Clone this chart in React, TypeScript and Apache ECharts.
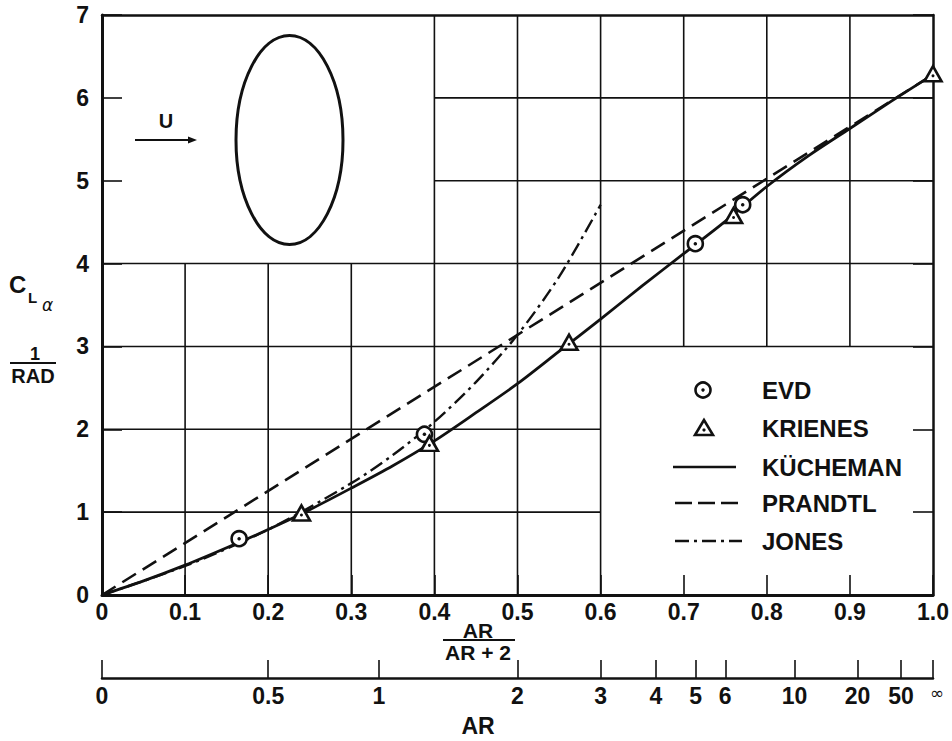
import React, { useEffect, useRef } from "react";
import * as echarts from "echarts";

const FONT = "'Liberation Sans', Arial, Helvetica, sans-serif";
const K = "#111";

// Kücheman (solid)
const kuchemanX = [0, 0.05, 0.1, 0.15, 0.2, 0.25, 0.3, 0.35, 0.4, 0.45, 0.5, 0.55, 0.6, 0.65, 0.7, 0.75, 0.8, 0.85, 0.9, 0.95, 1.0];
const kuchemanY = [0, 0.17, 0.36, 0.57, 0.79, 1.03, 1.29, 1.56, 1.86, 2.2, 2.55, 2.94, 3.33, 3.73, 4.12, 4.51, 4.93, 5.3, 5.63, 5.96, 6.28];
// Prandtl (dashed)
const prandtlX = [0, 0.25, 0.5, 0.75, 1.0];
const prandtlY = [0, 1.57, 3.14, 4.71, 6.28];
// Jones (dash-dot)
const jonesX = [0, 0.1, 0.2, 0.3, 0.35, 0.4, 0.45, 0.5, 0.55, 0.6];
const jonesY = [0, 0.35, 0.79, 1.35, 1.69, 2.09, 2.57, 3.14, 3.84, 4.71];
// EVD (circle with dot)
const evdX = [0.165, 0.388, 0.714, 0.771];
const evdY = [0.68, 1.94, 4.24, 4.71];
// Krienes (triangle)
const krienesX = [0.24, 0.394, 0.562, 0.76, 1.0];
const krienesY = [0.99, 1.83, 3.05, 4.58, 6.29];

// Secondary AR scale
const arTickValues = [0, 0.5, 1, 2, 3, 4, 5, 6, 10, 20, 50, Infinity];
const arTickLabels = ["0", "0.5", "1", "2", "3", "4", "5", "6", "10", "20", "50", "∞"];

const legendNames = ["EVD", "KRIENES", "KÜCHEMAN", "PRANDTL", "JONES"];

export default function App() {
  const ref = useRef<HTMLDivElement>(null);
  useEffect(() => {
    document.body.style.margin = "0";
    const chart = echarts.init(ref.current as HTMLDivElement, null, { renderer: "svg" });
    const pairs = (xs: number[], ys: number[]) => xs.map((x, i) => [x, ys[i]]);
    const arPos = arTickValues.map((a) => (isFinite(a) ? a / (a + 2) : 1));

    const gridSegments = [
      [0, 1, 0.6, 1], [0, 2, 0.6, 2], [0, 3, 1, 3], [0, 4, 1, 4], [0.4, 5, 1, 5], [0.4, 6, 1, 6],
      [0.1, 0, 0.1, 4], [0.2, 0, 0.2, 4], [0.3, 0, 0.3, 4], [0.4, 0, 0.4, 7], [0.5, 0, 0.5, 7], [0.6, 0, 0.6, 7],
      [0.7, 3, 0.7, 7], [0.8, 3, 0.8, 7], [0.9, 3, 0.9, 7],
    ];
    const gridSeries = gridSegments.map((s) => ({
      type: "line",
      data: [[s[0], s[1]], [s[2], s[3]]],
      symbol: "none",
      silent: true,
      z: 1,
      lineStyle: { color: K, width: 1.6 },
    }));

    const labelStyle = { fontFamily: FONT, fontWeight: "bold", fontSize: 23, color: K };

    const txt = (text: string, x: number, y: number, size: number, extra: any = {}) => ({
      type: "text",
      x,
      y,
      style: {
        text,
        fill: K,
        fontFamily: FONT,
        fontWeight: "bold",
        fontSize: size,
        align: "left",
        textAlign: "left",
        verticalAlign: "middle",
        textVerticalAlign: "middle",
        ...extra,
      },
    });

    const legendX = 762;
    const legendY = [390, 428, 467, 503, 541];

    const option: any = {
      animation: false,
      backgroundColor: "#fff",
      grid: { left: 102, right: 19, top: 15, bottom: 146, containLabel: false, outerBoundsMode: "none" },
      xAxis: [
        {
          type: "value", min: 0, max: 1, interval: 0.1, position: "bottom",
          axisLine: { show: true, lineStyle: { color: K, width: 3 } },
          axisTick: { show: true, inside: true, length: 20, lineStyle: { color: K, width: 1.6 } },
          axisLabel: {
            ...labelStyle, margin: 5,
            formatter: (v: number) => (v === 0 ? "0" : v.toFixed(1)),
          },
          splitLine: { show: false },
        },
        {
          type: "value", min: 0, max: 1, position: "bottom", offset: 83,
          axisLine: { show: true, onZero: false, lineStyle: { color: K, width: 2.5 } },
          axisTick: { show: true, inside: true, length: 18, customValues: arPos, lineStyle: { color: K, width: 1.6 } },
          axisLabel: {
            ...labelStyle, margin: 6, customValues: arPos,
            formatter: (v: number) => {
              let best = 0;
              arPos.forEach((p, i) => { if (Math.abs(p - v) < Math.abs(arPos[best] - v)) best = i; });
              return best === arPos.length - 1 ? "{inf|" + arTickLabels[best] + "}" : arTickLabels[best];
            },
            rich: { inf: { fontSize: 17, fontWeight: "normal", fontFamily: "'DejaVu Sans', sans-serif", color: K, padding: [0, 0, 0, 8] } },
          },
          splitLine: { show: false },
        },
        {
          type: "value", min: 0, max: 1, position: "top",
          axisLine: { show: true, onZero: false, lineStyle: { color: K, width: 2.5 } },
          axisTick: { show: false }, axisLabel: { show: false }, splitLine: { show: false },
        },
      ],
      yAxis: [
        {
          type: "value", min: 0, max: 7, interval: 1, position: "left",
          axisLine: { show: true, onZero: false, lineStyle: { color: K, width: 3 } },
          axisTick: { show: true, inside: true, length: 20, lineStyle: { color: K, width: 1.6 } },
          axisLabel: { ...labelStyle, margin: 13 },
          splitLine: { show: false },
        },
        {
          type: "value", min: 0, max: 7, interval: 1, position: "right",
          axisLine: { show: true, onZero: false, lineStyle: { color: K, width: 2.5 } },
          axisTick: { show: true, inside: true, length: 20, lineStyle: { color: K, width: 1.6 } },
          axisLabel: { show: false },
          splitLine: { show: false },
        },
      ],
      series: [
        ...gridSeries,
        {
          name: "PRANDTL", type: "line", data: pairs(prandtlX, prandtlY), symbol: "none", z: 3,
          lineStyle: { color: K, width: 2.6, type: [16, 8] },
        },
        {
          name: "JONES", type: "line", data: pairs(jonesX, jonesY), symbol: "none", smooth: 0.3, z: 3,
          lineStyle: { color: K, width: 2.4, type: [14, 5, 3, 5] },
        },
        {
          name: "KÜCHEMAN", type: "line", data: pairs(kuchemanX, kuchemanY), symbol: "none", smooth: 0.3, z: 3,
          lineStyle: { color: K, width: 2.8 },
        },
        {
          name: "EVD", type: "scatter", data: pairs(evdX, evdY), symbol: "circle", symbolSize: 15, z: 4,
          itemStyle: { color: "#fff", borderColor: K, borderWidth: 2.6, opacity: 1 },
        },
        {
          name: "EVD dot", type: "scatter", data: pairs(evdX, evdY), symbol: "circle", symbolSize: 3.5, z: 5,
          itemStyle: { color: K, opacity: 1 },
        },
        {
          name: "KRIENES", type: "scatter", data: pairs(krienesX, krienesY), symbol: "triangle", symbolSize: [17, 15], z: 4,
          itemStyle: { color: "#fff", borderColor: K, borderWidth: 2.6, opacity: 1 },
        },
        {
          name: "KRIENES dot", type: "scatter", data: pairs(krienesX, krienesY), symbol: "circle", symbolSize: 3, symbolOffset: [0, 2], z: 5,
          itemStyle: { color: K, opacity: 1 },
        },
      ],
      graphic: [
        // y-axis title
        txt("C", 9, 284, 24),
        txt("L", 28, 297, 15),
        txt("α", 42, 305, 17, { fontWeight: "normal", fontStyle: "italic", fontFamily: "'DejaVu Sans', sans-serif" }),
        txt("1", 35, 354, 18, { align: "center", textAlign: "center" }),
        { type: "line", shape: { x1: 10, y1: 363, x2: 56, y2: 363 }, style: { stroke: K, lineWidth: 1.8 } },
        txt("RAD", 33, 376, 20, { align: "center", textAlign: "center" }),
        // inset sketch
        txt("U", 166, 121, 20, { align: "center", textAlign: "center" }),
        { type: "line", shape: { x1: 135, y1: 140, x2: 190, y2: 140 }, style: { stroke: K, lineWidth: 2 } },
        { type: "polygon", shape: { points: [[197, 140], [188, 136.5], [188, 143.5]] }, style: { fill: K } },
        { type: "ellipse", shape: { cx: 289.5, cy: 140, rx: 53.5, ry: 104.5 }, style: { fill: "none", stroke: K, lineWidth: 3 } },
        // x-axis name (fraction)
        txt("AR", 478, 630, 21, { align: "center", textAlign: "center" }),
        { type: "line", shape: { x1: 443, y1: 640, x2: 515, y2: 640 }, style: { stroke: K, lineWidth: 1.8 } },
        txt("AR + 2", 478, 652, 21, { align: "center", textAlign: "center" }),
        txt("AR", 478, 726, 23, { align: "center", textAlign: "center" }),
        // legend
        { type: "circle", shape: { cx: 703, cy: legendY[0], r: 7.5 }, style: { fill: "#fff", stroke: K, lineWidth: 2.6 } },
        { type: "circle", shape: { cx: 703, cy: legendY[0], r: 1.7 }, style: { fill: K } },
        { type: "polygon", shape: { points: [[704, legendY[1] - 8], [695, legendY[1] + 7], [713, legendY[1] + 7]] }, style: { fill: "#fff", stroke: K, lineWidth: 2.6 } },
        { type: "circle", shape: { cx: 704, cy: legendY[1] + 2, r: 1.6 }, style: { fill: K } },
        { type: "line", shape: { x1: 673, y1: legendY[2], x2: 736, y2: legendY[2] }, style: { stroke: K, lineWidth: 2.6 } },
        { type: "line", shape: { x1: 675, y1: legendY[3], x2: 738, y2: legendY[3] }, style: { stroke: K, lineWidth: 2.6, lineDash: [17, 6] } },
        { type: "line", shape: { x1: 675, y1: legendY[4], x2: 742, y2: legendY[4] }, style: { stroke: K, lineWidth: 2.4, lineDash: [14, 5, 3, 5] } },
        ...legendNames.map((n, i) => txt(n, legendX, legendY[i], 24)),
      ],
    };
    chart.setOption(option);
    return () => chart.dispose();
  }, []);
  return <div ref={ref} style={{ width: 952, height: 741 }} />;
}
